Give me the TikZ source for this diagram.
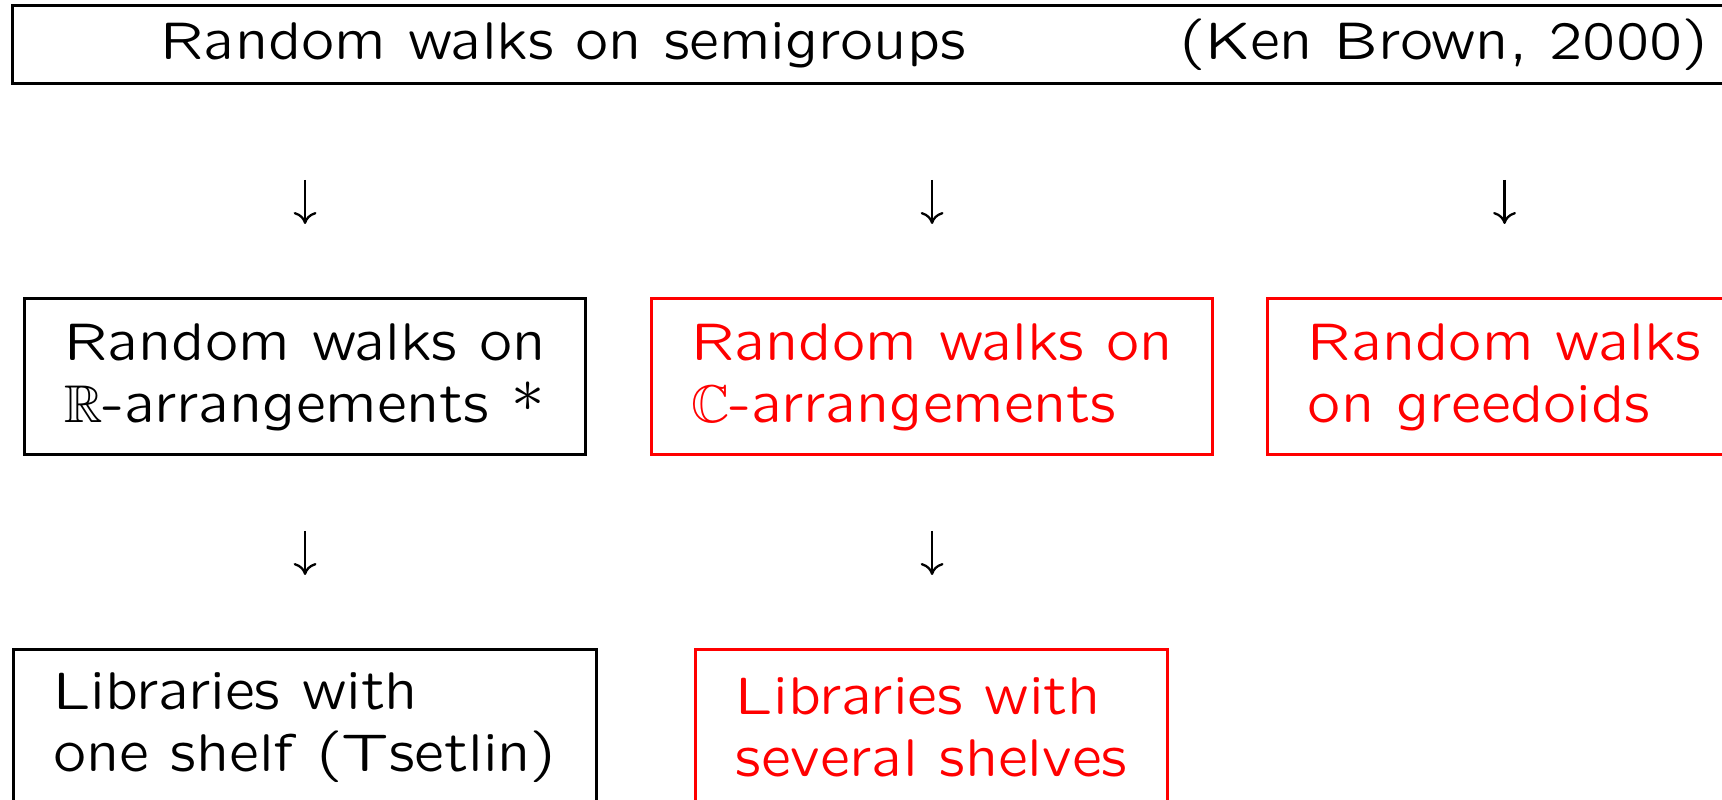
\documentclass[tikz,border=0pt]{standalone}
\usepackage{amssymb}
\usetikzlibrary{arrows.meta,positioning}
\font\slidefnt=lcmss8 at 15.1pt
\newcommand{\slidefont}{\fontsize{15.1}{17.6}\selectfont\slidefnt}
\begin{document}
\begin{tikzpicture}[x=0.01cm, y=-0.01cm,
  every node/.style={font=\slidefont},
  box/.style={draw, line width=0.8pt, inner sep=0pt, anchor=north west, align=left, minimum height=1.56cm},
  redbox/.style={box, red, text=red},
  downarr/.style={line width=0.65pt, -{Computer Modern Rightarrow[length=3.4pt,width=6.5pt]}}]
\useasboundingbox (0,0) rectangle (1722,799);
\clip (0,0) rectangle (1722,799);
% title bar, runs off the right edge
\node[box, minimum height=0.78cm] (title) at (11,4)
  {\makebox[17.41cm]{\hspace*{1.48cm}Random walks on semigroups\hfill(Ken Brown, 2000)\hspace*{0.46cm}}};
% middle row
\node[box, minimum width=5.61cm] (rbox) at (23,297) {Random walks on\\$\mathbb{R}$-arrangements *};
\node[redbox, minimum width=5.61cm] (cbox) at (650,297) {Random walks on\\$\mathbb{C}$-arrangements};
\node[redbox, minimum width=4.74cm] (gbox) at (1266,297) {Random walks\\on greedoids};
% bottom row, cut off at the bottom
\node[box, minimum width=5.83cm] (lib1) at (12,648) {Libraries with\\one shelf (Tsetlin)};
\node[redbox, minimum width=4.72cm] (lib2) at (694,648) {Libraries with\\several shelves};
\foreach \b in {rbox,cbox,gbox}
  \draw[downarr, shorten <=0.95cm, shorten >=0.73cm] (title.south -| \b.north) -- (\b.north);
\foreach \a/\b in {rbox/lib1,cbox/lib2}
  \draw[downarr, shorten <=0.75cm, shorten >=0.73cm] (\a.south) -- (\a.south |- \b.north);
\end{tikzpicture}
\end{document}
